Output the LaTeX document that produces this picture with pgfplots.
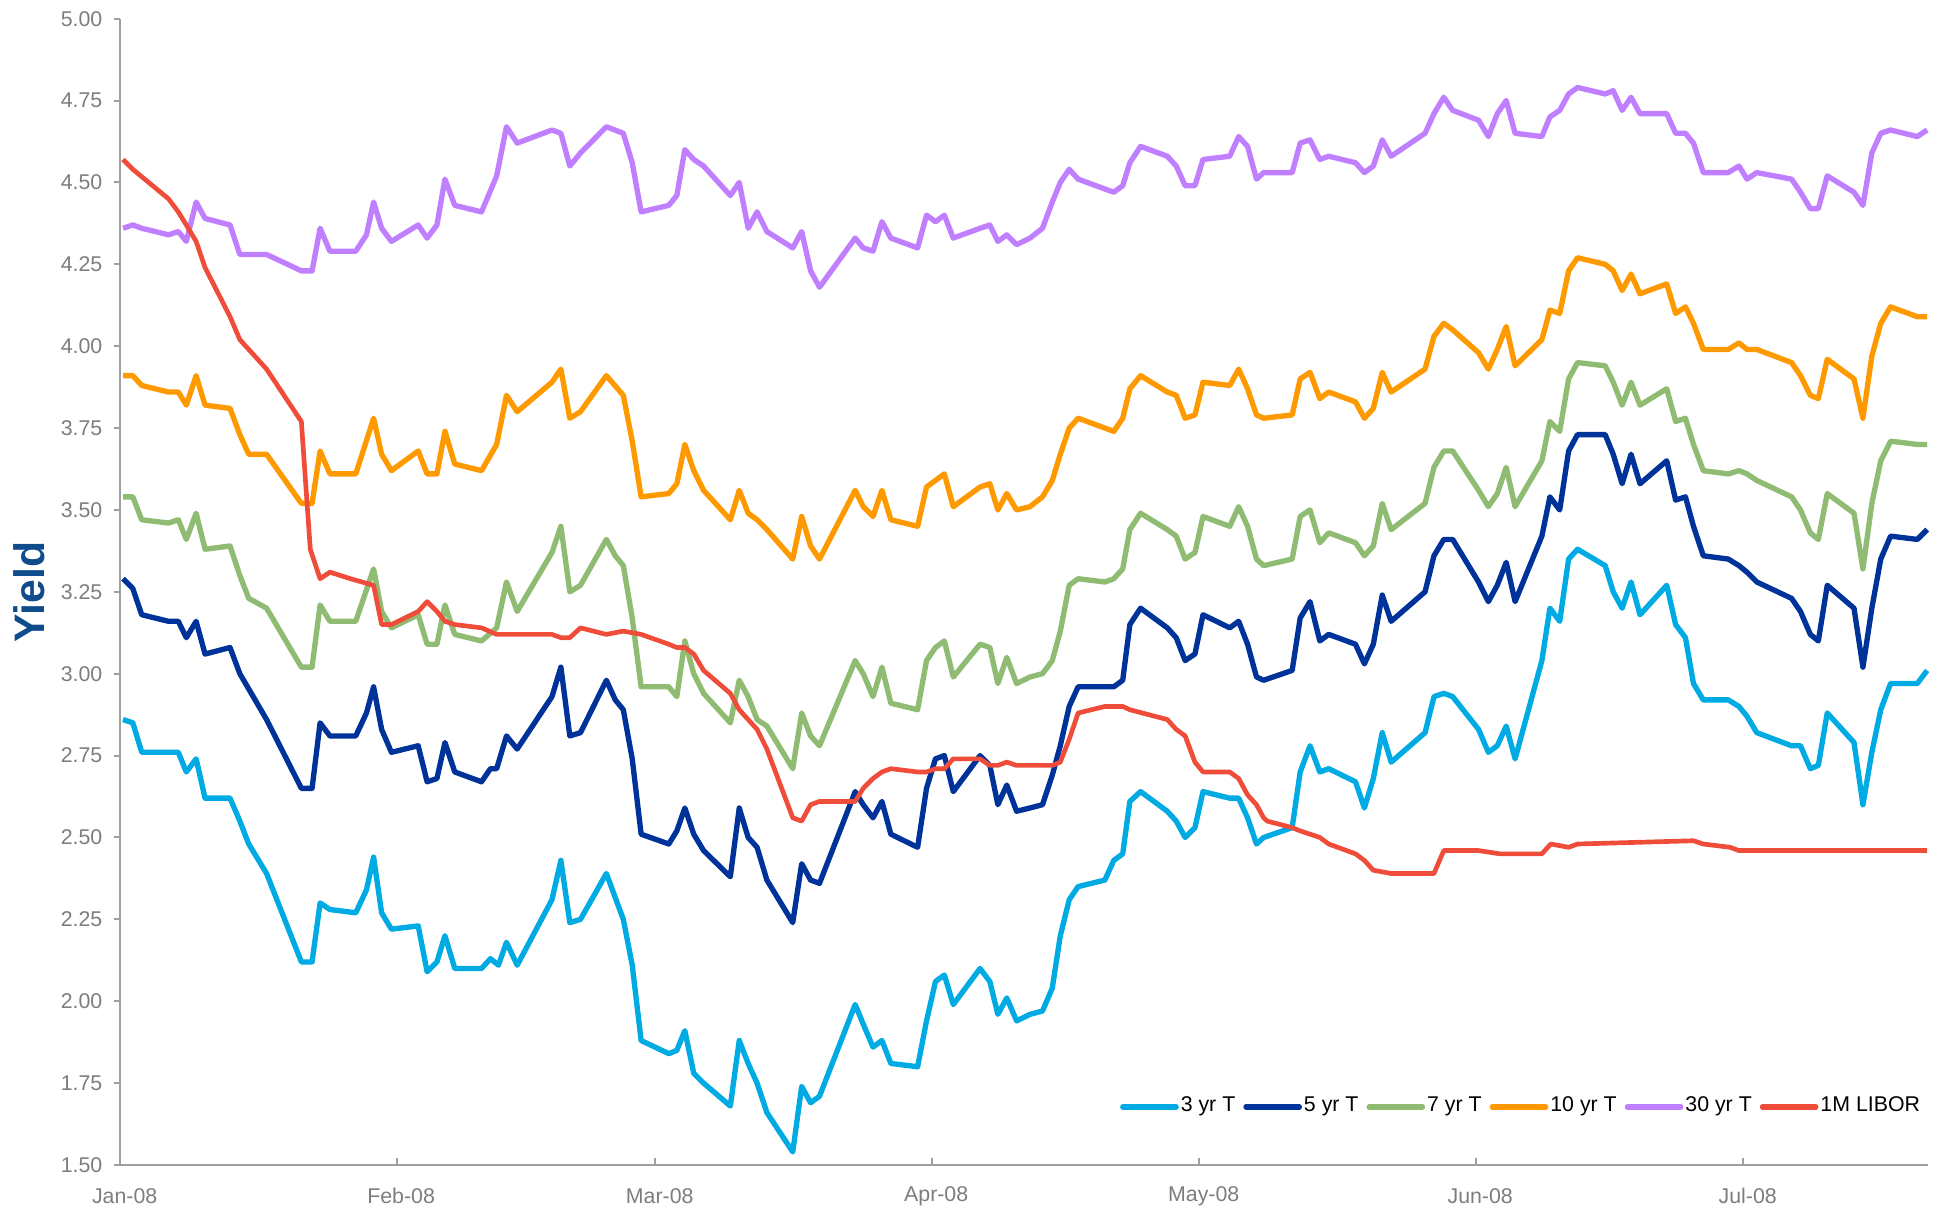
\documentclass[border=0pt]{standalone}
\usepackage{pgfplots}
\usepackage{pgfplotstable}
\pgfplotsset{compat=1.18}
\usepackage{fontspec}
\setmainfont{Liberation Sans}

\definecolor{c3}{RGB}{0,170,226}
\definecolor{c5}{RGB}{0,51,153}
\definecolor{c7}{RGB}{143,188,114}
\definecolor{c10}{RGB}{255,153,0}
\definecolor{c30}{RGB}{191,127,255}
\definecolor{clib}{RGB}{239,76,58}
\definecolor{axgray}{RGB}{160,160,160}
\definecolor{tkgray}{RGB}{125,125,125}
\definecolor{ylab}{RGB}{16,76,140}

\pgfplotstableread{
d v
0.3 4.36
1.4 4.37
2.4 4.36
5.4 4.34
6.5 4.35
7.4 4.32
8.5 4.44
9.5 4.39
12.3 4.37
13.4 4.28
16.4 4.28
20.3 4.23
21.5 4.23
22.4 4.36
23.5 4.29
26.4 4.29
27.6 4.34
28.4 4.44
29.3 4.36
30.4 4.32
33.4 4.37
34.4 4.33
35.5 4.37
36.4 4.51
37.5 4.43
40.5 4.41
42.2 4.52
43.3 4.67
44.5 4.62
48.4 4.66
49.4 4.65
50.4 4.55
51.6 4.59
54.5 4.67
56.4 4.65
57.4 4.56
58.4 4.41
61.5 4.43
62.4 4.46
63.3 4.60
64.3 4.57
65.4 4.55
68.4 4.46
69.4 4.50
70.4 4.36
71.4 4.41
72.5 4.35
75.4 4.30
76.4 4.35
77.4 4.23
78.4 4.18
82.4 4.33
83.3 4.30
84.4 4.29
85.4 4.38
86.4 4.33
89.4 4.30
90.4 4.40
91.4 4.38
92.4 4.40
93.4 4.33
96.4 4.36
97.5 4.37
98.4 4.32
99.4 4.34
100.5 4.31
102.0 4.33
103.4 4.36
104.5 4.44
105.4 4.50
106.4 4.54
107.4 4.51
110.4 4.48
111.4 4.47
112.4 4.49
113.2 4.56
114.4 4.61
117.4 4.58
118.4 4.55
119.4 4.49
120.5 4.49
121.4 4.57
124.4 4.58
125.4 4.64
126.4 4.61
127.4 4.51
128.2 4.53
131.4 4.53
132.3 4.62
133.4 4.63
134.5 4.57
135.5 4.58
138.5 4.56
139.5 4.53
140.5 4.55
141.5 4.63
142.5 4.58
146.3 4.65
147.3 4.71
148.4 4.76
149.4 4.72
152.3 4.69
153.4 4.64
154.4 4.71
155.4 4.75
156.4 4.65
159.4 4.64
160.3 4.70
161.4 4.72
162.4 4.77
163.4 4.79
166.5 4.77
167.4 4.78
168.4 4.72
169.4 4.76
170.4 4.71
173.4 4.71
174.4 4.65
175.5 4.65
176.4 4.62
177.5 4.53
180.3 4.53
181.5 4.55
182.4 4.51
183.5 4.53
187.4 4.51
188.4 4.47
189.5 4.42
190.4 4.42
191.4 4.52
194.4 4.47
195.4 4.43
196.4 4.59
197.4 4.65
198.5 4.66
201.5 4.64
202.6 4.66
}\tthirty

\pgfplotstableread{
d v
0.3 3.91
1.4 3.91
2.4 3.88
5.4 3.86
6.5 3.86
7.4 3.82
8.5 3.91
9.5 3.82
12.3 3.81
13.4 3.73
14.4 3.67
16.4 3.67
20.3 3.52
21.5 3.52
22.4 3.68
23.5 3.61
26.4 3.61
28.4 3.78
29.3 3.67
30.4 3.62
33.4 3.68
34.4 3.61
35.5 3.61
36.4 3.74
37.5 3.64
40.5 3.62
42.2 3.70
43.3 3.85
44.5 3.80
48.4 3.89
49.4 3.93
50.4 3.78
51.6 3.80
54.5 3.91
56.4 3.85
57.4 3.71
58.4 3.54
61.5 3.55
62.4 3.58
63.3 3.70
64.3 3.62
65.4 3.56
68.4 3.47
69.4 3.56
70.4 3.49
71.4 3.47
72.5 3.44
75.4 3.35
76.4 3.48
77.4 3.39
78.4 3.35
82.4 3.56
83.3 3.51
84.4 3.48
85.4 3.56
86.4 3.47
89.4 3.45
90.4 3.57
91.4 3.59
92.4 3.61
93.4 3.51
96.4 3.57
97.5 3.58
98.4 3.50
99.4 3.55
100.5 3.50
102.0 3.51
103.4 3.54
104.5 3.59
105.4 3.67
106.4 3.75
107.4 3.78
110.4 3.75
111.4 3.74
112.4 3.78
113.2 3.87
114.4 3.91
117.4 3.86
118.4 3.85
119.4 3.78
120.5 3.79
121.4 3.89
124.4 3.88
125.4 3.93
126.4 3.87
127.4 3.79
128.2 3.78
131.4 3.79
132.3 3.90
133.4 3.92
134.5 3.84
135.5 3.86
138.5 3.83
139.5 3.78
140.5 3.81
141.5 3.92
142.5 3.86
146.3 3.93
147.3 4.03
148.4 4.07
149.4 4.05
152.3 3.98
153.4 3.93
154.4 3.99
155.4 4.06
156.4 3.94
159.4 4.02
160.3 4.11
161.4 4.10
162.4 4.23
163.4 4.27
166.5 4.25
167.4 4.23
168.4 4.17
169.4 4.22
170.4 4.16
173.4 4.19
174.4 4.10
175.5 4.12
176.4 4.07
177.5 3.99
180.3 3.99
181.5 4.01
182.4 3.99
183.5 3.99
187.4 3.95
188.4 3.91
189.5 3.85
190.4 3.84
191.4 3.96
194.4 3.90
195.4 3.78
196.4 3.97
197.4 4.07
198.5 4.12
201.5 4.09
202.6 4.09
}\tten

\pgfplotstableread{
d v
0.3 3.54
1.4 3.54
2.4 3.47
5.4 3.46
6.5 3.47
7.4 3.41
8.5 3.49
9.5 3.38
12.3 3.39
13.4 3.30
14.4 3.23
16.4 3.20
20.3 3.02
21.5 3.02
22.4 3.21
23.5 3.16
26.4 3.16
28.4 3.32
29.3 3.19
30.4 3.14
33.4 3.18
34.4 3.09
35.5 3.09
36.4 3.21
37.5 3.12
40.5 3.10
42.2 3.14
43.3 3.28
44.5 3.19
48.4 3.37
49.4 3.45
50.4 3.25
51.6 3.27
54.5 3.41
55.5 3.36
56.4 3.33
57.4 3.17
58.4 2.96
61.5 2.96
62.4 2.93
63.3 3.10
64.3 3.00
65.4 2.94
68.4 2.85
69.4 2.98
70.4 2.93
71.4 2.86
72.5 2.84
75.4 2.71
76.4 2.88
77.4 2.81
78.4 2.78
82.4 3.04
83.3 3.00
84.4 2.93
85.4 3.02
86.4 2.91
89.4 2.89
90.4 3.04
91.4 3.08
92.4 3.10
93.4 2.99
96.4 3.09
97.5 3.08
98.4 2.97
99.4 3.05
100.5 2.97
102.0 2.99
103.4 3.00
104.5 3.04
105.4 3.13
106.4 3.27
107.4 3.29
110.4 3.28
111.4 3.29
112.4 3.32
113.2 3.44
114.4 3.49
117.4 3.44
118.4 3.42
119.4 3.35
120.5 3.37
121.4 3.48
124.4 3.45
125.4 3.51
126.4 3.45
127.4 3.35
128.2 3.33
131.4 3.35
132.3 3.48
133.4 3.50
134.5 3.40
135.5 3.43
138.5 3.40
139.5 3.36
140.5 3.39
141.5 3.52
142.5 3.44
146.3 3.52
147.3 3.63
148.4 3.68
149.4 3.68
152.3 3.56
153.4 3.51
154.4 3.55
155.4 3.63
156.4 3.51
159.4 3.65
160.3 3.77
161.4 3.74
162.4 3.90
163.4 3.95
166.5 3.94
167.4 3.89
168.4 3.82
169.4 3.89
170.4 3.82
173.4 3.87
174.4 3.77
175.5 3.78
176.4 3.70
177.5 3.62
180.3 3.61
181.5 3.62
182.4 3.61
183.5 3.59
187.4 3.54
188.4 3.50
189.5 3.43
190.4 3.41
191.4 3.55
194.4 3.49
195.4 3.32
196.4 3.52
197.4 3.65
198.5 3.71
201.5 3.70
202.6 3.70
}\tseven

\pgfplotstableread{
d v
0.3 3.29
1.4 3.26
2.4 3.18
5.4 3.16
6.5 3.16
7.4 3.11
8.5 3.16
9.5 3.06
12.3 3.08
13.4 3.00
16.4 2.86
20.3 2.65
21.5 2.65
22.4 2.85
23.5 2.81
26.4 2.81
27.6 2.88
28.4 2.96
29.3 2.83
30.4 2.76
33.4 2.78
34.4 2.67
35.5 2.68
36.4 2.79
37.5 2.70
40.5 2.67
41.5 2.71
42.2 2.71
43.3 2.81
44.5 2.77
48.4 2.93
49.4 3.02
50.4 2.81
51.6 2.82
54.5 2.98
55.5 2.92
56.4 2.89
57.4 2.74
58.4 2.51
61.5 2.48
62.4 2.52
63.3 2.59
64.3 2.51
65.4 2.46
68.4 2.38
69.4 2.59
70.4 2.50
71.4 2.47
72.5 2.37
75.4 2.24
76.4 2.42
77.4 2.37
78.4 2.36
82.4 2.64
83.3 2.60
84.4 2.56
85.4 2.61
86.4 2.51
89.4 2.47
90.4 2.65
91.4 2.74
92.4 2.75
93.4 2.64
96.4 2.75
97.5 2.72
98.4 2.60
99.4 2.66
100.5 2.58
102.0 2.59
103.4 2.60
104.5 2.69
105.4 2.78
106.4 2.90
107.4 2.96
110.4 2.96
111.4 2.96
112.4 2.98
113.2 3.15
114.4 3.20
117.4 3.14
118.4 3.11
119.4 3.04
120.5 3.06
121.4 3.18
124.4 3.14
125.4 3.16
126.4 3.09
127.4 2.99
128.2 2.98
131.4 3.01
132.3 3.17
133.4 3.22
134.5 3.10
135.5 3.12
138.5 3.09
139.5 3.03
140.5 3.09
141.5 3.24
142.5 3.16
146.3 3.25
147.3 3.36
148.4 3.41
149.4 3.41
152.3 3.28
153.4 3.22
154.4 3.27
155.4 3.34
156.4 3.22
159.4 3.42
160.3 3.54
161.4 3.50
162.4 3.68
163.4 3.73
166.5 3.73
167.4 3.67
168.4 3.58
169.4 3.67
170.4 3.58
173.4 3.65
174.4 3.53
175.5 3.54
176.4 3.45
177.5 3.36
180.3 3.35
181.5 3.33
182.4 3.31
183.5 3.28
187.4 3.23
188.4 3.19
189.5 3.12
190.4 3.10
191.4 3.27
194.4 3.20
195.4 3.02
196.4 3.20
197.4 3.35
198.5 3.42
201.5 3.41
202.6 3.44
}\tfive

\pgfplotstableread{
d v
0.3 2.86
1.4 2.85
2.4 2.76
5.4 2.76
6.5 2.76
7.4 2.70
8.5 2.74
9.5 2.62
12.3 2.62
13.4 2.55
14.4 2.48
16.4 2.39
20.3 2.12
21.5 2.12
22.4 2.30
23.5 2.28
26.4 2.27
27.6 2.34
28.4 2.44
29.3 2.27
30.4 2.22
33.4 2.23
34.4 2.09
35.5 2.12
36.4 2.20
37.5 2.10
40.5 2.10
41.5 2.13
42.4 2.11
43.3 2.18
44.5 2.11
48.4 2.31
49.4 2.43
50.4 2.24
51.6 2.25
54.5 2.39
56.4 2.25
57.4 2.11
58.4 1.88
61.5 1.84
62.4 1.85
63.3 1.91
64.3 1.78
65.4 1.75
68.4 1.68
69.4 1.88
70.4 1.81
71.4 1.75
72.5 1.66
75.4 1.54
76.4 1.74
77.4 1.69
78.4 1.71
82.4 1.99
83.3 1.93
84.4 1.86
85.4 1.88
86.4 1.81
89.4 1.80
90.4 1.94
91.4 2.06
92.4 2.08
93.4 1.99
96.4 2.10
97.5 2.06
98.4 1.96
99.4 2.01
100.5 1.94
102.0 1.96
103.4 1.97
104.5 2.04
105.4 2.20
106.4 2.31
107.4 2.35
110.4 2.37
111.4 2.43
112.4 2.45
113.2 2.61
114.4 2.64
117.4 2.58
118.4 2.55
119.4 2.50
120.5 2.53
121.4 2.64
124.4 2.62
125.4 2.62
126.4 2.56
127.4 2.48
128.2 2.50
131.4 2.53
132.3 2.70
133.4 2.78
134.5 2.70
135.5 2.71
138.5 2.67
139.5 2.59
140.5 2.68
141.5 2.82
142.5 2.73
146.3 2.82
147.3 2.93
148.4 2.94
149.4 2.93
152.3 2.83
153.4 2.76
154.4 2.78
155.4 2.84
156.4 2.74
159.4 3.04
160.3 3.20
161.4 3.16
162.4 3.35
163.4 3.38
166.5 3.33
167.4 3.25
168.4 3.20
169.4 3.28
170.4 3.18
173.4 3.27
174.4 3.15
175.5 3.11
176.4 2.97
177.5 2.92
180.3 2.92
181.5 2.90
182.4 2.87
183.5 2.82
187.4 2.78
188.4 2.78
189.5 2.71
190.4 2.72
191.4 2.88
194.4 2.79
195.4 2.60
196.4 2.76
197.4 2.89
198.5 2.97
201.5 2.97
202.6 3.01
}\tthree

\pgfplotstableread{
d v
0.3 4.57
1.4 4.54
5.4 4.45
6.5 4.41
7.4 4.37
8.5 4.32
9.5 4.24
12.3 4.09
13.4 4.02
16.4 3.93
20.3 3.77
21.3 3.38
22.4 3.29
23.5 3.31
25.8 3.29
28.4 3.27
29.3 3.15
30.4 3.15
33.4 3.19
34.4 3.22
35.5 3.19
36.4 3.16
37.5 3.15
40.5 3.14
42.2 3.12
48.4 3.12
49.4 3.11
50.4 3.11
51.6 3.14
54.5 3.12
56.4 3.13
58.4 3.12
61.5 3.09
62.4 3.08
63.3 3.08
64.3 3.06
65.4 3.01
68.4 2.94
69.4 2.89
70.4 2.86
71.4 2.83
72.5 2.77
75.4 2.56
76.4 2.55
77.4 2.60
78.4 2.61
82.4 2.61
83.3 2.65
84.4 2.68
85.4 2.70
86.4 2.71
89.4 2.70
90.4 2.70
91.4 2.71
92.4 2.71
93.4 2.74
96.4 2.74
97.5 2.72
98.4 2.72
99.4 2.73
100.5 2.72
102.0 2.72
104.5 2.72
105.4 2.73
106.4 2.80
107.4 2.88
110.4 2.90
111.4 2.90
112.4 2.90
113.2 2.89
117.4 2.86
118.4 2.83
119.4 2.81
120.5 2.73
121.4 2.70
124.4 2.70
125.4 2.68
126.4 2.63
127.4 2.60
128.2 2.56
128.6 2.55
131.4 2.53
132.3 2.52
134.5 2.50
135.5 2.48
138.5 2.45
139.5 2.43
140.5 2.40
142.5 2.39
147.3 2.39
148.4 2.46
152.3 2.46
154.7 2.45
155.4 2.45
159.4 2.45
160.4 2.48
162.4 2.47
163.4 2.48
176.4 2.49
177.5 2.48
180.5 2.47
181.5 2.46
187.4 2.46
190.4 2.46
194.4 2.46
202.6 2.46
}\tlibor

\begin{document}
\begin{tikzpicture}
\begin{axis}[
  at={(0,0)}, anchor=south west,
  scale only axis,
  width=542.3pt, height=343.9pt,
  xmin=0, xmax=202.7,
  ymin=1.5, ymax=5,
  axis x line*=bottom, axis y line*=left,
  axis line style={color=axgray, line width=0.6pt},
  tick align=inside,
  major tick length=2pt,
  tick style={color=axgray, line width=0.6pt},
  y tick style={xshift=-2pt},
  xtick={0,31,60,91,121,152,182},
  xticklabels={Jan-08,Feb-08,Mar-08,Apr-08,May-08,Jun-08,Jul-08},
  ytick={1.5,1.75,2,2.25,2.5,2.75,3,3.25,3.5,3.75,4,4.25,4.5,4.75,5},
  /pgf/number format/assume math mode=true,
  tick label style={font=\fontsize{6.4}{7.5}\selectfont, text=tkgray, inner sep=0pt},
  xticklabel style={anchor=center, yshift=-9.3pt, xshift=1.3pt},
  yticklabel style={anchor=east, xshift=-5.2pt, /pgf/number format/.cd, fixed, fixed zerofill, precision=2},
  ylabel={Yield},
  every axis y label/.style={at={(axis description cs:-0.0502,0.5)}, rotate=90, anchor=center,
    font=\fontsize{12.8}{14}\selectfont\bfseries, text=ylab},
  legend columns=6,
  legend style={draw=none, fill=none, inner sep=0pt, outer sep=0pt,
    at={(axis description cs:0.9967,0.0506)}, anchor=east,
    font=\fontsize{6.4}{7.5}\selectfont,
    nodes={inner xsep=0.6pt, inner ysep=1pt},
    /tikz/every even column/.append style={column sep=1.8pt}},
  legend image code/.code={\draw[#1, line width=1.6pt, line cap=round] (0pt,0pt) -- (16pt,0pt);},
  every axis plot/.append style={line join=round},
  clip=false,
]
\addplot[c3, line width=1.6pt] table[x=d, y=v] {\tthree};
\addlegendentry{3 yr T}
\addplot[c5, line width=1.6pt] table[x=d, y=v] {\tfive};
\addlegendentry{5 yr T}
\addplot[c7, line width=1.6pt] table[x=d, y=v] {\tseven};
\addlegendentry{7 yr T}
\addplot[c10, line width=1.6pt] table[x=d, y=v] {\tten};
\addlegendentry{10 yr T}
\addplot[c30, line width=1.6pt] table[x=d, y=v] {\tthirty};
\addlegendentry{30 yr T}
\addplot[clib, line width=1.4pt] table[x=d, y=v] {\tlibor};
\addlegendentry{1M LIBOR}
\end{axis}
\pgfresetboundingbox
\useasboundingbox (-36.1pt,-13.8pt) rectangle (547.1pt,349.5pt);
\end{tikzpicture}
\end{document}
